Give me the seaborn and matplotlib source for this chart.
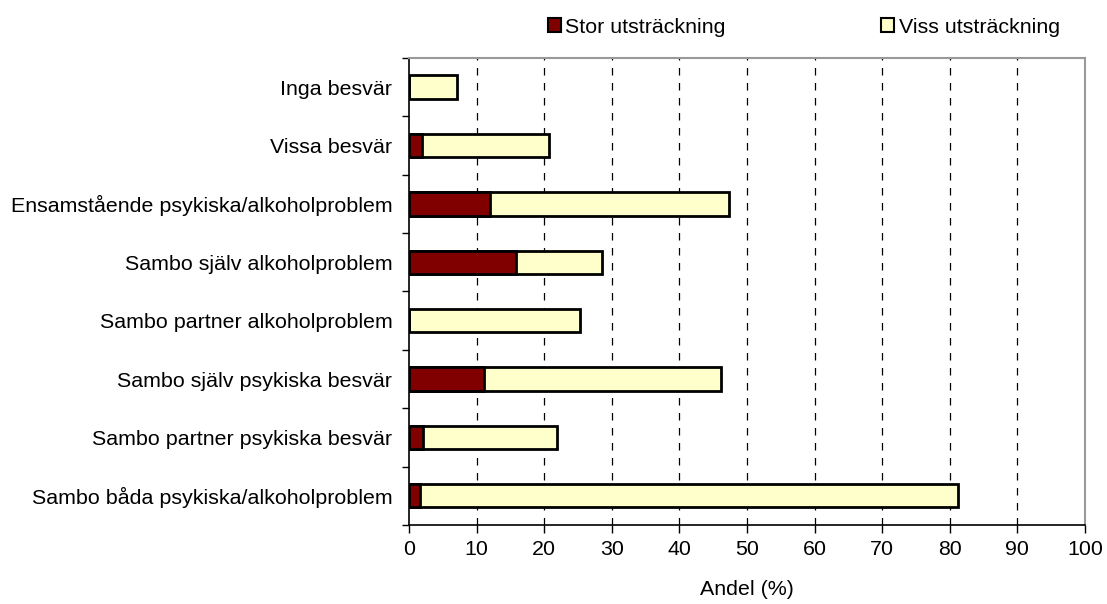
import matplotlib
matplotlib.use("Agg")
from matplotlib import pyplot as plt
from matplotlib.patches import Patch
import numpy as np
import pandas as pd
import seaborn as sns

sns.set_style("white")
plt.rcParams['font.family'] = ['Liberation Sans', 'DejaVu Sans']
plt.rcParams['text.color'] = 'black'
plt.rcParams['axes.labelcolor'] = 'black'
plt.rcParams['xtick.color'] = 'black'
plt.rcParams['ytick.color'] = 'black'

categories = [
    "Inga besvär",
    "Vissa besvär",
    "Ensamstående psykiska/alkoholproblem",
    "Sambo själv alkoholproblem",
    "Sambo partner alkoholproblem",
    "Sambo själv psykiska besvär",
    "Sambo partner psykiska besvär",
    "Sambo båda psykiska/alkoholproblem",
]
stor = [0.0, 1.9, 12.0, 15.9, 0.0, 11.1, 2.1, 1.6]
viss = [7.1, 18.8, 35.3, 12.6, 25.3, 35.0, 19.8, 79.6]
labels = ["Stor utsträckning", "Viss utsträckning"]
colors = ["#800000", "#FFFFCC"]

df = pd.DataFrame({"kategori": categories, "stor": stor, "viss": viss})
df["total"] = df["stor"] + df["viss"]

fs = 15.4

fig = plt.figure(figsize=(11.07, 6.04), dpi=100)
ax = fig.add_axes([0.3695, 0.1308, 0.6105, 0.7732])

# stacked: draw totals first, then the dark part on top
sns.barplot(data=df, x="total", y="kategori", orient="h", color=colors[1],
            saturation=1, width=0.4, edgecolor="black", linewidth=2, ax=ax)
sns.barplot(data=df, x="stor", y="kategori", orient="h", color=colors[0],
            saturation=1, width=0.4, edgecolor="black", linewidth=2, ax=ax)

ax.set_xlim(0, 100)
ax.set_ylim(7.5, -0.5)
ax.set_xticks(np.arange(0, 101, 10))
ax.tick_params(axis="x", labelsize=fs, length=6, direction="out", width=1, pad=5, bottom=True)
ax.set_yticks(range(len(categories)))
ax.set_yticklabels(categories, fontsize=fs)
ax.set_yticks(np.arange(-0.5, 8, 1), minor=True)
ax.tick_params(axis="y", which="major", length=0, pad=12)
ax.tick_params(axis="y", which="minor", length=5, width=1, direction="out", left=True)
ax.set_ylabel("")
ax.set_xlabel("Andel (%)", fontsize=fs, labelpad=15)

for v in range(10, 100, 10):
    ax.axvline(v, color="black", linestyle=(0, (6, 6)), linewidth=0.9, zorder=0)

for s in ["left", "bottom"]:
    ax.spines[s].set_color("black")
    ax.spines[s].set_linewidth(1.2)
for s in ["top", "right"]:
    ax.spines[s].set_color("#999999")
    ax.spines[s].set_linewidth(1.5)

handles = [Patch(facecolor=c, edgecolor="black", linewidth=1.5) for c in colors]
fig.legend(handles, labels, loc="center", bbox_to_anchor=(0.726, 0.955), ncol=2,
           frameon=False, fontsize=fs, handlelength=0.6, handleheight=0.6,
           handletextpad=0.2, columnspacing=7.3)

fig.savefig("out.png", dpi=100)
